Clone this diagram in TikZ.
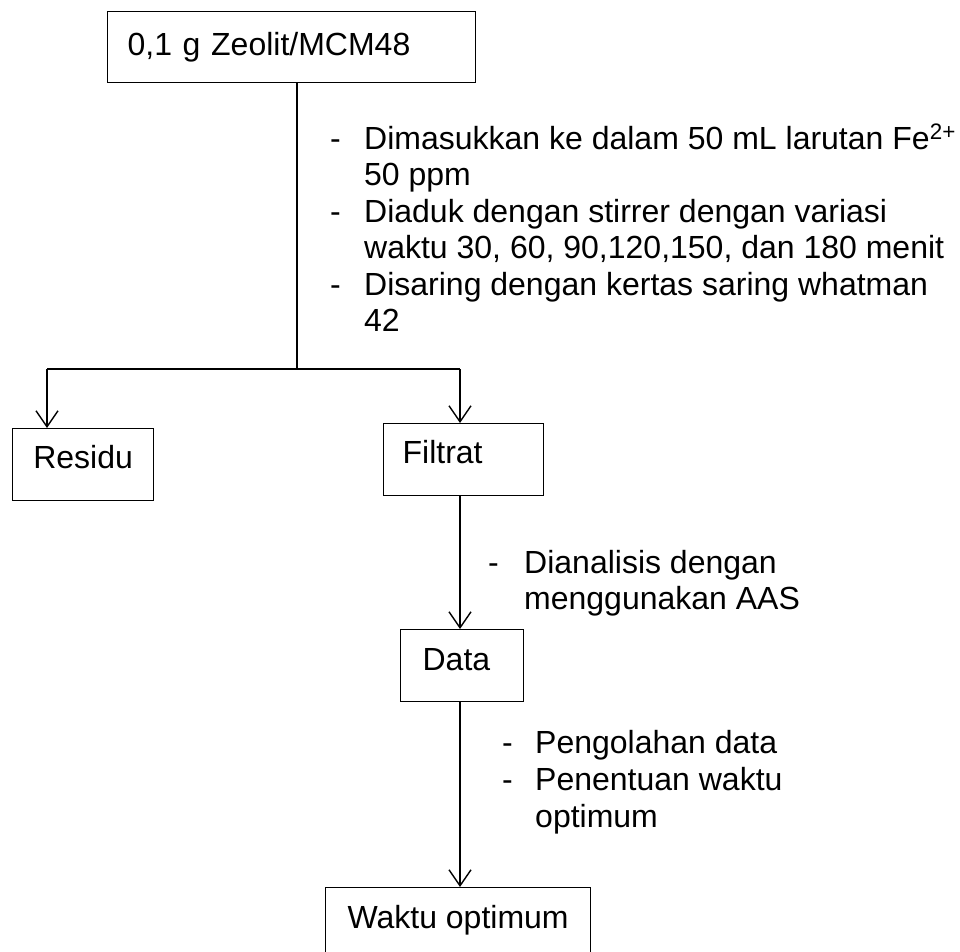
\documentclass[tikz,border=0pt]{standalone}
\usepackage{fontspec}
\setmainfont{Liberation Sans}
\usetikzlibrary{arrows.meta}

\tikzset{
  box/.style={draw, line width=1.2pt, inner ysep=0pt, anchor=north west,
              font=\fontsize{32}{37}\selectfont},
  txt/.style={anchor=base west, inner sep=0pt, font=\fontsize{32}{37}\selectfont},
  flow/.style={line width=2pt},
  arr/.style={flow, -{Straight Barb[length=16pt,width=22pt,line width=1.4pt]}},
}

\begin{document}
\begin{tikzpicture}[x=1pt, y=-1pt]
  \useasboundingbox (0,0) rectangle (960,951);
  \clip (0,0) rectangle (960,951);
  \fill[white] (0,0) rectangle (960,951);

  % process boxes
  \node[box, inner xsep=20pt, text width=328pt, align=left,
        text height=44pt, text depth=27pt] (zeo) at (107,11) {0,1 g Zeolit/MCM48};
  \node[box, inner xsep=0pt, minimum width=141pt, align=center,
        text height=40pt, text depth=32pt] (res) at (12,428) {Residu};
  \node[box, inner xsep=19pt, text width=122pt, align=left,
        text height=40pt, text depth=32pt] (fil) at (383,423) {Filtrat};
  \node[box, inner xsep=22pt, text width=79pt, align=left,
        text height=41pt, text depth=31pt] (dat) at (400,629) {Data};
  \node[box, inner xsep=0pt, minimum width=265pt, align=center,
        text height=41pt, text depth=31pt] (wak) at (325,887) {Waktu optimum};

  % branching points
  \coordinate (stem) at (297,369);
  \coordinate (lft) at (47,369);
  \coordinate (rgt) at (460,369);

  \draw[flow] (zeo.south -| stem) -- (stem);
  \draw[flow] (lft) -- (rgt);
  \draw[arr] (lft) -- (res.north -| lft);
  \draw[arr] (rgt) -- (fil.north -| rgt);
  \draw[arr] (fil.south -| rgt) -- (dat.north -| rgt);
  \draw[arr] (dat.south -| rgt) -- (wak.north -| rgt);

  % steps between the sample and the split
  \node[txt] (d1) at (330,149) {-};
  \node[txt] (s1a) at (364,149) {Dimasukkan ke dalam 50 mL larutan Fe\textsuperscript{2+}};
  \node[txt] (s1b) at (364,185) {50 ppm};
  \node[txt] (d2) at (330,222) {-};
  \node[txt] (s2a) at (364,222) {Diaduk dengan stirrer dengan variasi};
  \node[txt] (s2b) at (364,258) {waktu 30, 60, 90,120,150, dan 180 menit};
  \node[txt] (d3) at (330,295) {-};
  \node[txt] (s3a) at (364,295) {Disaring dengan kertas saring whatman};
  \node[txt] (s3b) at (364,331) {42};

  % analysis of the filtrate
  \node[txt] (d4) at (488,573) {-};
  \node[txt] (s4a) at (524,573) {Dianalisis dengan};
  \node[txt] (s4b) at (524,609) {menggunakan AAS};

  % data processing
  \node[txt] (d5) at (502,753) {-};
  \node[txt] (s5) at (535,753) {Pengolahan data};
  \node[txt] (d6) at (502,790) {-};
  \node[txt] (s6a) at (535,790) {Penentuan waktu};
  \node[txt] (s6b) at (535,827) {optimum};
\end{tikzpicture}
\end{document}
